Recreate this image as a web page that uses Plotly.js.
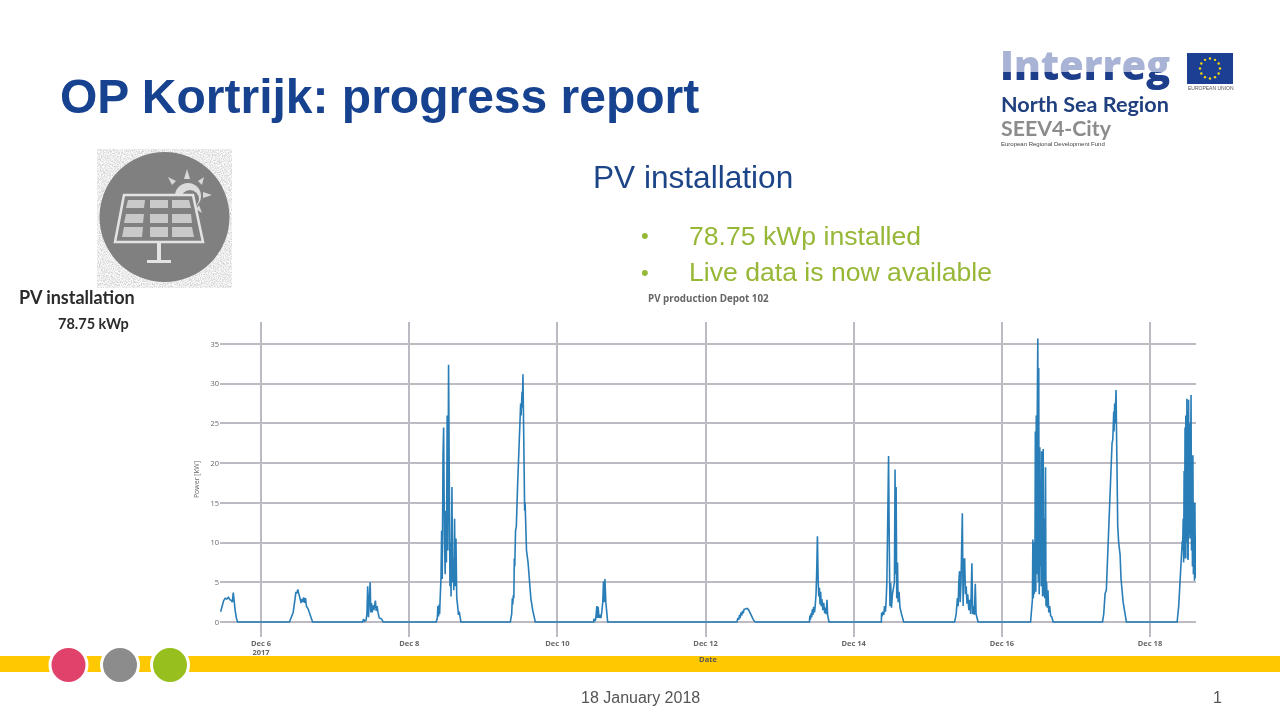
<!DOCTYPE html>
<html>
<head>
<meta charset="utf-8">
<script src="https://cdn.plot.ly/plotly-3.0.1.min.js"></script>
<style>
html,body{margin:0;padding:0;background:#fff;overflow:hidden}
#chart{width:1280px;height:720px}
.cartesianlayer{filter:blur(0.55px)}
</style>
</head>
<body>
<div id="chart"></div>
<script>
// Hours of the day and power [kW], one pair per December day
const dec05Hours=[10.9,11.4,11.9,12.4,12.9,13.4,13.9,14.4,14.7,15.0,15.2,15.6,16.0,16.4];
const dec05Power=[1.3,2,2.7,3.0,2.9,3.1,2.8,2.7,2.5,3.7,2.8,1.5,0.5,0];
const dec06Hours=[9.2,10.0,10.4,10.9,11.3,11.6,11.9,12.2,12.6,13.0,13.3,13.5,13.8,14.1,14.4,14.7,15.2,15.7,16.2,16.7];
const dec06Power=[0,0.8,1.2,2.6,3.8,3.6,4.1,3.6,2.9,2.4,2.9,2.5,3.1,2.4,3.0,2.0,1.7,1.1,0.5,0];
const dec07Hours=[8.9,9.2,9.6,10.0,10.3,10.55,10.8,11.0,11.35,11.55,11.8,12.0,12.3,12.55,12.85,13.05,13.3,13.6,13.9,14.3,15.0,15.6];
const dec07Power=[0,0.35,0.1,0.2,1.0,4.5,0.6,1.8,5.0,1.2,2.4,1.2,2.1,1.5,2.5,2.7,1.4,2.0,1.2,0.5,0.4,0];
const dec08Hours=[8.75,9.1,9.3,9.5,9.7,9.85,10.0,10.3,10.5,10.7,10.95,11.15,11.4,11.65,11.85,12.05,12.3,12.5,12.75,12.95,13.2,13.35,13.55,13.85,14.05,14.3,14.45,14.7,14.9,15.15,15.4,15.7,15.95,16.2,16.75];
const dec08Power=[0,0.5,2.0,0.7,2.2,1.0,2.7,5.5,11.5,5.4,21,24.5,11,6,14,7.5,26,9,32.4,13,4.5,10,3.2,17,5,8,4,13,4.5,10.5,3,2,0.9,1.3,0];
const dec09Hours=[8.75,9.2,9.4,9.55,9.75,9.9,10.05,10.2,10.45,10.7,11.1,11.5,11.8,12.1,12.25,12.55,12.65,12.85,13.0,13.2,13.4,13.55,13.75,14.0,14.5,15.0,15.4,16.0,16.85];
const dec09Power=[0,1,3,2.2,3.4,3,8,7,11.5,12,17,21,25,27.5,26,29,27,31.2,26.5,18,14,15,11,9,7.5,5,3,1.5,0];
const dec10Hours=[11.75,11.85,12.1,12.4,12.8,13.0,13.2,13.5,13.8,14.1,14.4,14.7,14.95,15.15,15.4,15.7,16.3];
const dec10Power=[0,0.4,0.1,0.3,2.0,0.5,1.9,0.5,0.9,0.5,1.3,2.5,5.1,2.5,5.4,2.5,0];
const dec12Hours=[10.15,10.5,10.8,11.0,11.2,11.5,11.7,12.0,12.2,12.5,13.0,13.5,14,14.5,15,15.6,16.1];
const dec12Power=[0,0.5,0.3,0.9,0.5,1.2,0.8,1.4,1.1,1.6,1.7,1.7,1.5,1.1,0.6,0.2,0];
const dec13Hours=[9.65,9.8,10.0,10.2,10.4,10.6,10.8,11.0,11.3,11.5,11.8,12.0,12.25,12.5,12.7,12.9,13.1,13.3,13.5,13.7,14.0,14.3,14.6,14.9,15.1,15.35,15.55,16];
const dec13Power=[0,0.8,0.3,1.1,0.6,1.6,0.9,1.9,1.2,1.9,3.5,6,10.8,5,3.2,4.3,2.2,3.8,2,2.9,1.5,2.4,1.1,1.8,1,2.8,0.9,0];
const dec14Hours=[8.95,9.05,9.2,9.5,9.75,10.0,10.3,10.5,10.75,11.0,11.3,11.55,11.75,12.0,12.25,12.55,12.85,13.2,13.4,13.6,13.75,13.95,14.2,14.4,14.7,15.0,15.5,16.2];
const dec14Power=[0,1.2,0.7,1.3,0.9,2,1.3,2.6,5,12,20.9,9,2,4.9,1.8,3.5,4.2,5,19.2,6,17,3,7.5,2.5,3.8,1.8,1,0];
const dec15Hours=[8.7,9.2,9.6,9.85,10.05,10.3,10.5,10.75,11.2,11.45,11.7,11.95,12.2,12.45,12.7,12.95,13.3,13.6,13.9,14.3,14.55,14.85,15.1,15.4,15.65,16.3];
const dec15Power=[0,1,3,2,5,6.4,2.5,4.8,13.7,2,7.8,8,3.5,4.5,2.3,3.5,1.5,2.8,1,7.4,1,2,0.9,4.8,1,0];
const dec16Hours=[9.3,9.7,9.9,10.05,10.2,10.35,10.5,10.7,10.85,11.0,11.15,11.3,11.45,11.65,11.8,11.95,12.1,12.3,12.45,12.6,12.75,12.9,13.05,13.2,13.4,13.55,13.75,13.9,14.15,14.3,14.5,14.7,14.95,15.2,15.5,15.8,16.2,16.6];
const dec16Power=[0,1.5,2.8,10.4,3,10,3.5,5,24,3.8,26,6,25,35.7,5,32,3.5,22,7,14,4.5,21.5,10,3.2,21.8,3.3,13,3,19.5,2,5,1.8,4,1.2,2,0.8,0.6,0];
const dec17Hours=[8.6,9.0,9.3,9.45,9.85,10.05,10.1,10.4,10.9,11.3,11.5,11.7,11.95,12.05,12.25,12.35,12.55,12.65,12.75,13.0,13.15,13.3,13.55,13.85,14.3,14.6,14.9,15.3,16.35];
const dec17Power=[0,1,3,3.6,4,6,6.5,9,14,19,21,22.5,23,24.5,26.5,24,27.5,25,26,29.2,24,16,12,10,8.5,5.5,4,2.5,0];
const dec18Hours=[8.78,9.3,9.8,10.2,10.45,10.55,10.75,10.9,11.05,11.2,11.35,11.45,11.6,11.75,11.95,12.1,12.2,12.35,12.5,12.65,12.8,12.95,13.1,13.3,13.45,13.6,13.75,13.9,14.05,14.25,14.4,14.55,14.7,14.8];
const dec18Power=[0,2,5.5,8.5,10.2,9,13,7.5,19,8.5,24.5,8,26,10,28.1,8,24,7.8,28,11,25,10.5,27,28.6,9,21,7,21,6,15,5.2,15,5.5,11];

const chartTitle="PV production Depot 102";
const xTitle="Date";
const yTitle="Power [kW]";
const yTicks=[0,5,10,15,20,25,30,35];

const days=[[5,dec05Hours,dec05Power],[6,dec06Hours,dec06Power],[7,dec07Hours,dec07Power],[8,dec08Hours,dec08Power],[9,dec09Hours,dec09Power],[10,dec10Hours,dec10Power],[12,dec12Hours,dec12Power],[13,dec13Hours,dec13Power],[14,dec14Hours,dec14Power],[15,dec15Hours,dec15Power],[16,dec16Hours,dec16Power],[17,dec17Hours,dec17Power],[18,dec18Hours,dec18Power]];
const x=[],y=[];
days.forEach(([d,hs,ps])=>hs.forEach((h,i)=>{x.push(Date.UTC(2017,11,d)+h*3600000);y.push(ps[i]);}));

const W=1280,H=720;
const px=v=>v/W, py=v=>1-v/H;
const t=(text,left,mid,size,color,extra)=>({text,x:px(left),y:py(mid),xref:'paper',yref:'paper',xanchor:'left',yanchor:'middle',showarrow:false,borderpad:0,font:Object.assign({family:'Liberation Sans, Arial, sans-serif',size,color},extra||{})});
const rect=(x0,y0,x1,y1,c)=>({type:'rect',xref:'paper',yref:'paper',x0:px(x0),x1:px(x1),y0:py(y0),y1:py(y1),fillcolor:c,line:{width:0},layer:'below'});
const circ=(cx,cy,r,c)=>({type:'circle',xref:'paper',yref:'paper',x0:px(cx-r),x1:px(cx+r),y0:py(cy-r),y1:py(cy+r),fillcolor:c,line:{color:'#ffffff',width:3},layer:'below'});

const iconSvg=`<svg xmlns="http://www.w3.org/2000/svg" width="135" height="139" viewBox="0 0 135 139">
<filter id="n"><feTurbulence type="fractalNoise" baseFrequency="0.9" numOctaves="2" seed="4"/><feColorMatrix values="0 0 0 0 0.62 0 0 0 0 0.62 0 0 0 0 0.62 1.6 1.6 0 0 -1.2"/></filter>
<rect width="135" height="139" fill="#fff"/><rect width="135" height="139" filter="url(#n)"/>
<circle cx="67.5" cy="68" r="65" fill="#808080"/>
<circle cx="91" cy="47" r="13" fill="#dcdcdc"/><circle cx="93" cy="50" r="9" fill="#808080"/>
<g fill="#d8d8d8"><path d="M90 20l3 10h-6zM71 28l8 4-4 4zM107 28l-2 8-4-4zM115 46l-9 3v-6zM105 64l-6-4 3-4z"/></g>
<path d="M27 46H96L106 93H18Z" fill="#808080" stroke="#e3e3e3" stroke-width="2.5"/>
<g fill="#c9c9c9"><path d="M31 51H48L47 59H29ZM53 51H71V59H53ZM75 51H92L94 59H75ZM29 65H47L46 74H27ZM53 65H71V74H53ZM75 65H94L95 74H75ZM27 78H46L45 88H25ZM53 78H71V88H53ZM75 78H95L97 88H75Z"/></g>
<path d="M60 94h4v17h10v3H50v-3h10z" fill="#e3e3e3"/></svg>`;
let stars='';
for(let k=0;k<12;k++){const a=k*Math.PI/6;stars+=`<circle cx="${23+10*Math.sin(a)}" cy="${15.5-10*Math.cos(a)}" r="1.2" fill="#f5d90a"/>`;}
const flagSvg=`<svg xmlns="http://www.w3.org/2000/svg" width="46" height="31" viewBox="0 0 46 31"><rect width="46" height="31" fill="#1c3f94"/>${stars}</svg>`;
const svgUri=s=>'data:image/svg+xml;charset=utf-8,'+encodeURIComponent(s);
const img=(s,l,tp,w,h)=>({source:svgUri(s),xref:'paper',yref:'paper',x:px(l),y:py(tp),sizex:w/W,sizey:h/H,xanchor:'left',yanchor:'top',sizing:'stretch',layer:'below'});

const gridGrey='#bdbac3';
const labelFont={family:'Open Sans, sans-serif',size:7.5,color:'#666',weight:700};
const layout={
  width:W,height:H,margin:{l:0,r:0,t:0,b:0},
  paper_bgcolor:'#ffffff',plot_bgcolor:'rgba(0,0,0,0)',showlegend:false,
  title:{text:chartTitle,x:px(648),xanchor:'left',xref:'paper',y:py(299),yanchor:'middle',yref:'paper',font:{family:'Open Sans, sans-serif',size:9.8,color:'#666',weight:700}},
  xaxis:{type:'date',domain:[px(220),px(1196)],range:[Date.UTC(2017,11,5)+10.7*3600000,Date.UTC(2017,11,18)+14.9*3600000],
    tick0:Date.UTC(2017,11,6),dtick:172800000,showgrid:true,gridcolor:gridGrey,gridwidth:2,zeroline:false,showline:false,ticks:'',
    tickfont:labelFont,title:{text:xTitle,standoff:0,font:Object.assign({},labelFont,{color:'#555'})}},
  yaxis:{domain:[py(637),py(322)],range:[-1.89,37.78],tickvals:yTicks,showgrid:true,gridcolor:gridGrey,gridwidth:2,zeroline:false,showline:false,ticks:'',
    tickfont:{family:'Open Sans, sans-serif',size:7.5,color:'#666'},title:{text:yTitle,standoff:9,font:{family:'Open Sans, sans-serif',size:7,color:'#666'}}},
  shapes:[rect(0,656,1280,672,'#ffc800'),circ(68.5,665,18.5,'#e0426b'),circ(120,665,18.5,'#8c8c8c'),circ(170,665,18.5,'#97bf1e')],
  images:[img(iconSvg,97,149,135,139),img(flagSvg,1187,53,46,31)],
  annotations:[
    t('OP Kortrijk: progress report',59,97,48,'#17428f',{weight:700}),
    t('PV installation',592,177,31.6,'#1c4587'),
    t('•',640,236,22,'#97b737'),t('78.75 kWp installed',688,236,26.6,'#97b737'),
    t('•',640,272,22,'#97b737'),t('Live data is now available',688,272,26.6,'#97b737'),
    t('18 January 2018',580,697,16,'#555555'),t('1',1212,697,16,'#555555'),
    t('PV installation',18,297,18,'#2b2b2b',{family:'Lato, sans-serif',weight:700}),
    t('78.75 kWp',57,324,14.5,'#2b2b2b',{family:'Lato, sans-serif',weight:700}),
    t('Interreg',999,64,40,'#1d3f8b',{family:'Open Sans, sans-serif',weight:800}),
    t('North Sea Region',1000,104,21.6,'#1f3f7f',{family:'Lato, sans-serif',weight:700}),
    t('SEEV4-City',1000,128,21.3,'#8c8c8c',{family:'Lato, sans-serif',weight:700}),
    t('European Regional Development Fund',1000,144,6,'#444444'),
    t('EUROPEAN UNION',1187,88,5,'#555555')
  ]
};
const trace={type:'scatter',mode:'lines',x,y,opacity:0.95,line:{color:'#1f77b4',width:1.6,shape:'linear'},hoverinfo:'skip'};
Plotly.newPlot('chart',[trace],layout,{displayModeBar:false,staticPlot:true}).then(gd=>{
  const svg=gd.querySelector('.main-svg');
  let defs=svg.querySelector('defs');
  const NS='http://www.w3.org/2000/svg';
  const g=document.createElementNS(NS,'linearGradient');
  g.setAttribute('id','twoTone');g.setAttribute('x1','0');g.setAttribute('x2','0');g.setAttribute('y1','0');g.setAttribute('y2','1');
  [[0,'#a9b3d6'],[0.645,'#a9b3d6'],[0.645,'#1d3f8b'],[1,'#1d3f8b']].forEach(([o,c])=>{const s=document.createElementNS(NS,'stop');s.setAttribute('offset',o);s.setAttribute('stop-color',c);g.appendChild(s);});
  defs.appendChild(g);
  gd.querySelectorAll('.annotation-text').forEach(e=>{if(e.textContent==='Interreg')e.style.fill='url(#twoTone)';});
});
</script>
</body>
</html>
